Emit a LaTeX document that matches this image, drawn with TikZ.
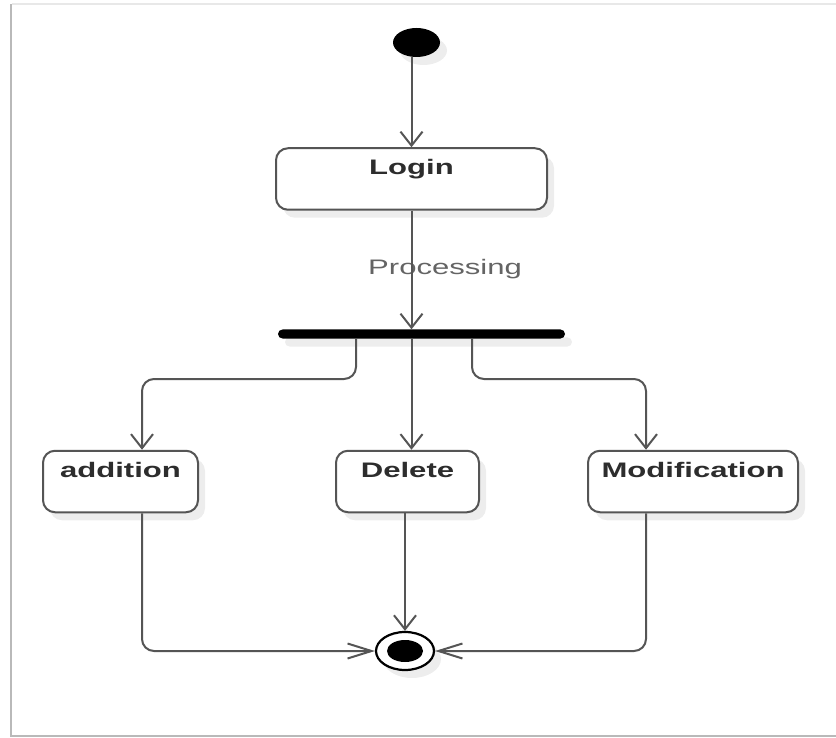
\documentclass[tikz,border=0pt]{standalone}
\usepackage{fontspec}
\usetikzlibrary{arrows.meta,shapes.geometric,shadows}
\newfontfamily\umlfont[FakeStretch=1.48]{Liberation Sans}
\definecolor{linegray}{RGB}{85,85,85}
\definecolor{textgray}{RGB}{45,45,45}
\definecolor{labelgray}{RGB}{100,100,100}
\definecolor{framegray}{RGB}{185,185,185}
\definecolor{toplinegray}{RGB}{232,232,232}

\begin{document}
\begin{tikzpicture}[x=1pt,y=-1pt,
  flow/.style={draw=linegray,line width=2pt},
  vtip/.style={-{Straight Barb[length=14pt,width=22pt]}},
  htip/.style={-{Straight Barb[length=24pt,width=15pt]}},
  softshade/.style={drop shadow={shadow xshift=7pt,shadow yshift=-8pt,fill=black,opacity=0.07}},
  state/.style={draw=linegray,line width=2pt,fill=white,rounded corners=12pt,inner sep=0pt,
    text height=26.5pt,text depth=35pt,text=textgray,
    font=\umlfont\fontsize{21}{25}\selectfont\bfseries,softshade},
]
%uncomment if require: \path (0,738); %diagram is 836 by 738
\useasboundingbox[fill=white] (0,0) rectangle (836,738);

%Shape: Frame
\draw [framegray,line width=2.5pt] (836,736) -- (11,736) -- (11,4) ;
\draw [toplinegray,line width=2pt] (12,4) -- (836,4) ;

%Shape: Initial state
\node [ellipse,fill=black,minimum width=47pt,minimum height=29pt,inner sep=0pt,softshade] (start) at (416.5,42.5) {};
%Shape: Rounded Rectangle
\node [state,minimum width=271pt] (login) at (411.5,179) {Login};
% Text Node
\node [anchor=base west,inner sep=0pt,text=labelgray,font=\umlfont\fontsize{21}{25}\selectfont] (proc) at (368,275) {Processing};
%Shape: Fork bar
\node [fill=black,rounded corners=4.5pt,minimum width=287pt,minimum height=9pt,inner sep=0pt,softshade] (fork) at (421.5,334) {};

%Shape: Rounded Rectangle
\node [state,minimum width=155pt] (add) at (120.5,481.5) {addition};
%Shape: Rounded Rectangle
\node [state,minimum width=143pt] (del) at (407.5,481.5) {Delete};
%Shape: Rounded Rectangle
\node [state,minimum width=210pt] (mod) at (693,481.5) {Modification};

%Shape: Final state
\node [ellipse,draw=black,line width=2.2pt,fill=white,minimum width=58pt,minimum height=38pt,inner sep=0pt,softshade] (final) at (405,651) {};
\fill (final.center) ellipse [x radius=18pt,y radius=11pt] ;

\coordinate (addcol) at ([xshift=21.5pt]add.north);
\coordinate (modcol) at ([xshift=-47pt]mod.north);

%Straight Lines
\draw [flow,vtip] (start.south -| login.north) -- (login.north) ;
%Straight Lines
\draw [flow,vtip] (login.south) -- (login.south |- fork.north) ;
%Straight Lines
\draw [flow,vtip,rounded corners=12pt] ([xshift=-65.5pt]fork.south) |- (addcol |- 0,379) -- (addcol) ;
%Straight Lines
\draw [flow,vtip] (login.south |- fork.south) -- (login.south |- del.north) ;
%Straight Lines
\draw [flow,vtip,rounded corners=12pt] ([xshift=50.5pt]fork.south) |- (modcol |- 0,379) -- (modcol) ;

%Straight Lines
\draw [flow,htip,rounded corners=12pt] (addcol |- add.south) |- (final.west) ;
%Straight Lines
\draw [flow,vtip] (del.south -| final.north) -- (final.north) ;
%Straight Lines
\draw [flow,htip,rounded corners=12pt] (modcol |- mod.south) |- (final.east) ;

\end{tikzpicture}
\end{document}
